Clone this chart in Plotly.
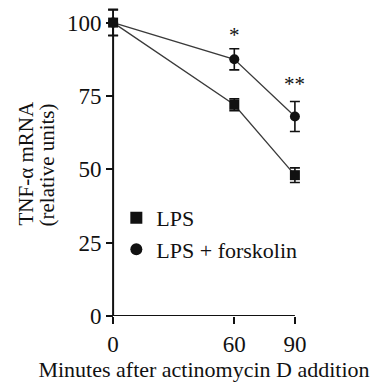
import plotly.graph_objects as go

# Time points (minutes after actinomycin D)
minutes = [0, 60, 90]

# TNF-alpha mRNA, relative units
lps_mean = [100, 72, 48]
lps_err = [4.3, 2.0, 2.5]

forsk_mean = [100, 87.5, 68]
forsk_err = [4.5, 3.6, 5.1]

# significance marks
sig_x = [60, 90]
sig_y = [95.8, 79.0]
sig_text = ["*", "**"]

y_ticks = [0, 25, 50, 75, 100]
y_title_lines = ["TNF-α mRNA", "(relative units)"]
x_title = "Minutes after actinomycin D addition"

FONT = "Liberation Serif"
INK = "#111111"
LINE = "#3a3a3a"

X_RANGE = [-5, 95]
Y_RANGE = [0, 106]

fig = go.Figure()

# connecting lines (kept out of the legend)
for ys in (lps_mean, forsk_mean):
    fig.add_trace(go.Scatter(
        x=minutes, y=ys, mode="lines", showlegend=False, hoverinfo="skip",
        line=dict(color=LINE, width=1.3),
    ))

fig.add_trace(go.Scatter(
    x=minutes, y=lps_mean, name="LPS", mode="markers",
    marker=dict(symbol="square", size=10, color=INK),
    error_y=dict(type="data", array=lps_err, visible=True,
                 color=INK, thickness=1.6, width=5),
))

fig.add_trace(go.Scatter(
    x=minutes, y=forsk_mean, name="LPS + forskolin", mode="markers",
    marker=dict(symbol="circle", size=10, color=INK),
    error_y=dict(type="data", array=forsk_err, visible=True,
                 color=INK, thickness=1.6, width=5),
))

for x, y, t in zip(sig_x, sig_y, sig_text):
    fig.add_annotation(x=x, y=y, text=t, showarrow=False,
                       font=dict(family=FONT, size=21, color=INK),
                       xanchor="center", yanchor="middle")

# axis lines: y from 0 to 100, x from 0 to 90
fig.add_shape(type="line", xref="x", yref="y", x0=0, x1=0, y0=0, y1=y_ticks[-1],
              line=dict(color=INK, width=2))
fig.add_shape(type="line", xref="x", yref="y", x0=0, x1=minutes[-1], y0=0, y1=0,
              line=dict(color=INK, width=2))

# two-line rotated y title
for i, (txt, dx) in enumerate(zip(y_title_lines, [-78, -57])):
    fig.add_annotation(xref="paper", yref="paper", x=0, y=0.5,
                       xshift=dx, yshift=-3 - i * 2,
                       text=txt, textangle=-90, showarrow=False,
                       xanchor="center", yanchor="middle",
                       font=dict(family=FONT, size=21, color=INK))

y_pos = (0 - X_RANGE[0]) / (X_RANGE[1] - X_RANGE[0])

fig.update_layout(
    width=373, height=387,
    margin=dict(l=102.6, r=67.6, t=5.1, b=71),
    paper_bgcolor="white", plot_bgcolor="white",
    font=dict(family=FONT, size=22, color=INK),
    showlegend=True,
    legend=dict(x=0.066, y=0.383, xanchor="left", yanchor="top",
                bgcolor="rgba(0,0,0,0)", font=dict(family=FONT, size=22, color=INK),
                tracegroupgap=0, itemsizing="constant"),
    xaxis=dict(
        range=X_RANGE, tickvals=minutes, ticktext=[str(m) for m in minutes],
        showline=False, showgrid=False, zeroline=False,
        ticks="outside", ticklen=7, tickwidth=2, tickcolor=INK,
        tickfont=dict(family=FONT, size=23, color=INK),
        title=dict(text=x_title, standoff=4,
                   font=dict(family=FONT, size=22, color=INK)),
    ),
    yaxis=dict(
        range=Y_RANGE, tickvals=y_ticks,
        anchor="free", position=y_pos,
        showline=False, showgrid=False, zeroline=False,
        ticks="outside", ticklen=7, tickwidth=2, tickcolor=INK,
        tickfont=dict(family=FONT, size=23, color=INK),
    ),
)

fig.write_html("out.html")
